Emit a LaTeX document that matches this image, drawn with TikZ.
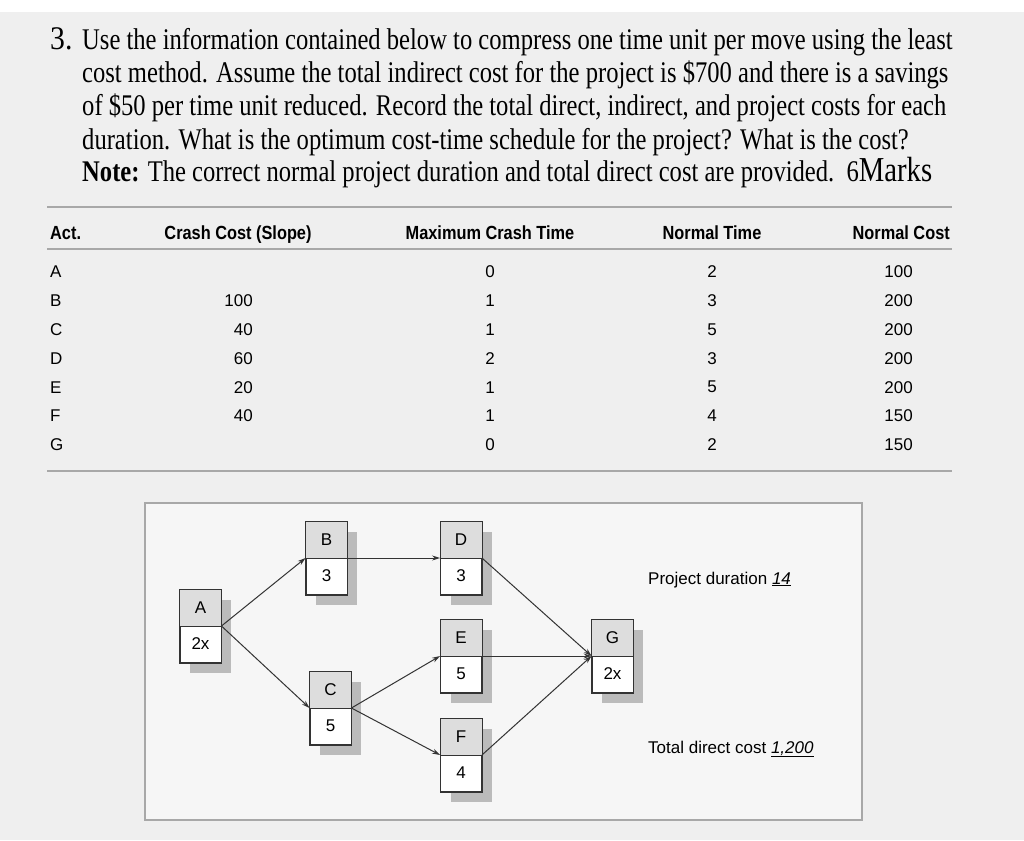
\documentclass[tikz,border=0pt]{standalone}
\usepackage{fontspec}
\setmainfont{Liberation Serif}
\setsansfont{Liberation Sans}
\usetikzlibrary{arrows.meta}
\definecolor{pagebg}{HTML}{EFEFEF}
\definecolor{boxbg}{HTML}{F6F6F6}
\definecolor{rulec}{HTML}{A8A8A8}
\definecolor{hdr}{HTML}{DDDDDD}
\definecolor{shad}{HTML}{BBBBBB}
\tikzset{
 qline/.style={anchor=base west,inner sep=0pt,font=\fontsize{30}{30}\selectfont},
 th/.style={inner sep=0pt,font=\sffamily\bfseries\fontsize{19}{19}\selectfont},
 td/.style={inner sep=0pt,font=\sffamily\fontsize{17}{17}\selectfont},
 act/.style={draw=black!80,line width=0.9pt,fill=white,minimum width=41pt,minimum height=73pt,inner sep=0pt},
 conn/.style={draw=black!80,line width=1pt,-{Stealth[length=8pt,width=5pt]}},
 lab/.style={anchor=base west,inner sep=0pt,font=\sffamily\fontsize{17}{17}\selectfont},
}
\newcommand{\actbox}[5]{% name, cx, cy (divider), letter, dur
 \fill[shad] (#2-10.5,#3-26.5) rectangle (#2+30.5,#3+46.5);
 \node[act] (#1) at (#2,#3) {};
 \fill[hdr] (#1.north west) rectangle (#1.east);
 \draw[black!80,line width=0.9pt] (#1.north west) rectangle (#1.south east);
 \draw[black!80,line width=0.9pt] (#1.west) -- (#1.east);
 \node[td] at (#2,#3-18) {#4};
 \node[td] at (#2,#3+18) {#5};
}
\begin{document}
\begin{tikzpicture}[x=1pt,y=-1pt]
\useasboundingbox (0,0) rectangle (1024,840);
\fill[white] (0,0) rectangle (1024,840);
\fill[pagebg] (0,12) rectangle (1024,840);
% question text
\newcommand{\sq}[1]{\scalebox{0.82}[1]{#1}}
\node[qline] (n3) at (50,50) {\scalebox{0.9}[1]{\fontsize{33}{33}\selectfont 3.}};
\node[qline] (l1) at (82,50) {\sq{Use the information contained below to compress one time unit per move using the least}};
\node[qline] (l2) at (82,83) {\sq{cost method. Assume the total indirect cost for the project is \$700 and there is a savings}};
\node[qline] (l3) at (82,116) {\sq{of \$50 per time unit reduced. Record the total direct, indirect, and project costs for each}};
\node[qline] (l4) at (82,149) {\sq{duration. What is the optimum cost-time schedule for the project? What is the cost?}};
\node[qline] (l5) at (82,181) {\sq{\textbf{Note:} The correct normal project duration and total direct cost are provided.\ \ 6{\fontsize{35}{35}\selectfont Marks}}};
% table rules
\draw[rulec,line width=1.2pt] (47,207) -- (952,207);
\draw[rulec,line width=1.2pt] (47,249) -- (952,249);
\draw[rulec,line width=1.2pt] (47,471) -- (952,471);
% header
\node[th,anchor=base west] (h1) at (50,239) {\scalebox{0.86}[1]{Act.}};
\node[th,anchor=base] (h2) at (238,239) {\scalebox{0.86}[1]{Crash Cost (Slope)}};
\node[th,anchor=base] (h3) at (490,239) {\scalebox{0.86}[1]{Maximum Crash Time}};
\node[th,anchor=base] (h4) at (712,239) {\scalebox{0.86}[1]{Normal Time}};
\node[th,anchor=base east] (h5) at (950,239) {\scalebox{0.86}[1]{Normal Cost}};
% rows
\foreach \i/\a/\c/\m/\t/\n in {0/A//0/2/100,1/B/100/1/3/200,2/C/40/1/5/200,3/D/60/2/3/200,4/E/20/1/5/200,5/F/40/1/4/150,6/G//0/2/150}{
 \pgfmathsetmacro{\yy}{272+28.8*\i}
 \node[td,anchor=west] (ra\i) at (50,\yy) {\a};
 \node[td,anchor=east] (rc\i) at (253,\yy) {\c};
 \node[td] (rm\i) at (490,\yy) {\m};
 \node[td] (rt\i) at (712,\yy) {\t};
 \node[td,anchor=east] (rn\i) at (913,\yy) {\n};
}
% network box
\draw[rulec,fill=boxbg,line width=1.2pt] (145,503) rectangle (862,820);
\actbox{A}{200.5}{626}{A}{2x}
\actbox{B}{326.5}{558}{B}{3}
\actbox{D}{461}{558}{D}{3}
\actbox{E}{461}{656}{E}{5}
\actbox{C}{330.5}{708}{C}{5}
\actbox{F}{461}{755}{F}{4}
\actbox{G}{612.5}{656}{G}{2x}
\draw[conn] (A.east) -- (B.west);
\draw[conn] (A.east) -- (C.west);
\draw[conn] (B.east) -- (D.west);
\draw[conn] (D.east) -- (G.west);
\draw[conn] (C.east) -- (E.west);
\draw[conn] (C.east) -- (F.west);
\draw[conn] (E.east) -- (G.west);
\draw[conn] (F.east) -- (G.west);
\node[lab] (pd) at (648,584) {Project duration \underline{\textit{14}}\,\,};
\node[lab] (tdc) at (648,753) {Total direct cost \underline{\textit{1,200}}\,};
\end{tikzpicture}
\end{document}
